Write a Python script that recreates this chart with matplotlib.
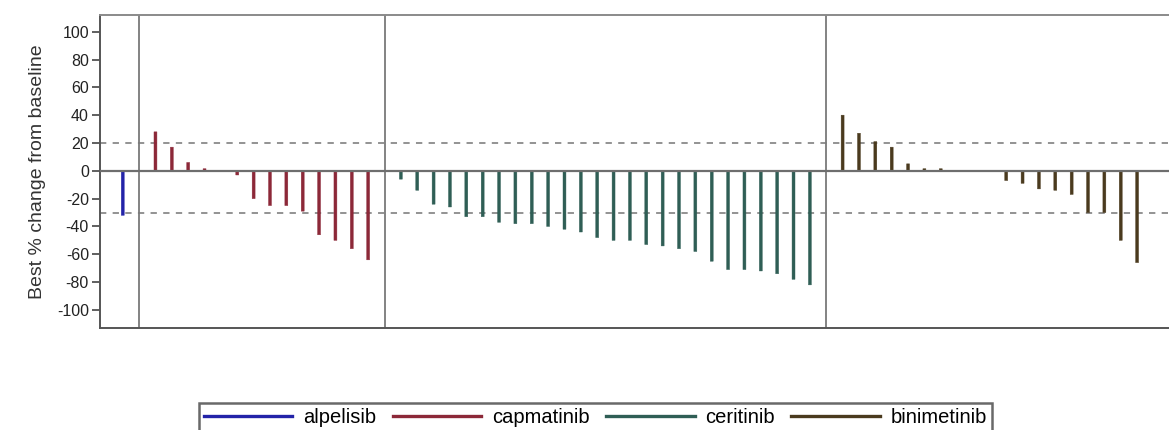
import matplotlib
matplotlib.use("Agg")
import matplotlib.pyplot as plt
import numpy as np

plt.rcParams['font.family'] = ['Liberation Sans', 'DejaVu Sans']

drugs = ["alpelisib", "capmatinib", "ceritinib", "binimetinib"]
colors = ["#2323a8", "#8c2838", "#2f5e55", "#4a3a1e"]

alpelisib = [-32]
capmatinib = [28, 17, 6, 1.5, 0, -3, -20, -25, -25, -29, -46, -50, -56, -64]
ceritinib = [-6, -14, -24, -26, -33, -33, -37, -38, -38, -40, -42, -44, -48,
             -50, -50, -53, -54, -56, -58, -65, -71, -71, -72, -74, -78, -82]
binimetinib = [40, 27, 21, 17, 5, 1.5, 1.5, 0, 0, 0, -7, -9, -13, -14, -17,
               -30, -30, -50, -66]
groups = [alpelisib, capmatinib, ceritinib, binimetinib]

yticks = list(range(-100, 101, 20))
ref_lines = [20, -30]

fig = plt.figure(figsize=(11.69, 4.30), dpi=100)
ax = fig.add_axes([100/1169, 1 - 328/430, 1 - 100/1169, (328 - 15)/430])

start = 0
handles = []
separators = []
for name, vals, c in zip(drugs, groups, colors):
    x = start + np.arange(len(vals))
    v = np.array(vals, dtype=float)
    ax.bar(x, v, width=0.18, color=c, edgecolor=c, linewidth=0.3, zorder=3, snap=False)
    h, = ax.plot([], [], color=c, lw=2.4, label=name)
    handles.append(h)
    separators.append(start + len(vals))
    start = start + len(vals) + 1

for s in separators[:-1]:
    ax.axvline(s, color="#7a7a7a", lw=1.3, zorder=2)

ax.axhline(0, color="#6e6e6e", lw=1.6, zorder=4)
for r in ref_lines:
    ax.axhline(r, color="#8a8a8a", lw=1.3, linestyle=(0, (3.5, 3.5)), zorder=1)

ax.set_xlim(-1.39, 63.95)
ax.set_ylim(-113, 112)
ax.set_yticks(yticks)
ax.set_yticklabels([str(t) for t in yticks], fontsize=11.5, color="#222222")
ax.set_xticks([])
ax.tick_params(axis='y', direction='out', length=6, width=1.2, color="#444444", pad=2)
ax.set_ylabel("Best % change from baseline", fontsize=14, color="#333333", labelpad=8)

ax.spines['right'].set_visible(False)
ax.spines['top'].set_color("#8a8a8a")
ax.spines['left'].set_color("#555555")
ax.spines['bottom'].set_color("#555555")
for sp in ['top', 'left', 'bottom']:
    ax.spines[sp].set_linewidth(1.4)

leg = fig.legend(handles=handles, loc='upper center', bbox_to_anchor=(595.5/1169, 1 - 403/430),
                 ncol=4, fontsize=14.5, frameon=True, fancybox=False,
                 handlelength=4.4, handletextpad=0.55, columnspacing=0.8,
                 borderpad=0.25, borderaxespad=0)
leg.get_frame().set_edgecolor("#444444")
leg.get_frame().set_linewidth(1.8)

fig.savefig("out.png", dpi=100)
